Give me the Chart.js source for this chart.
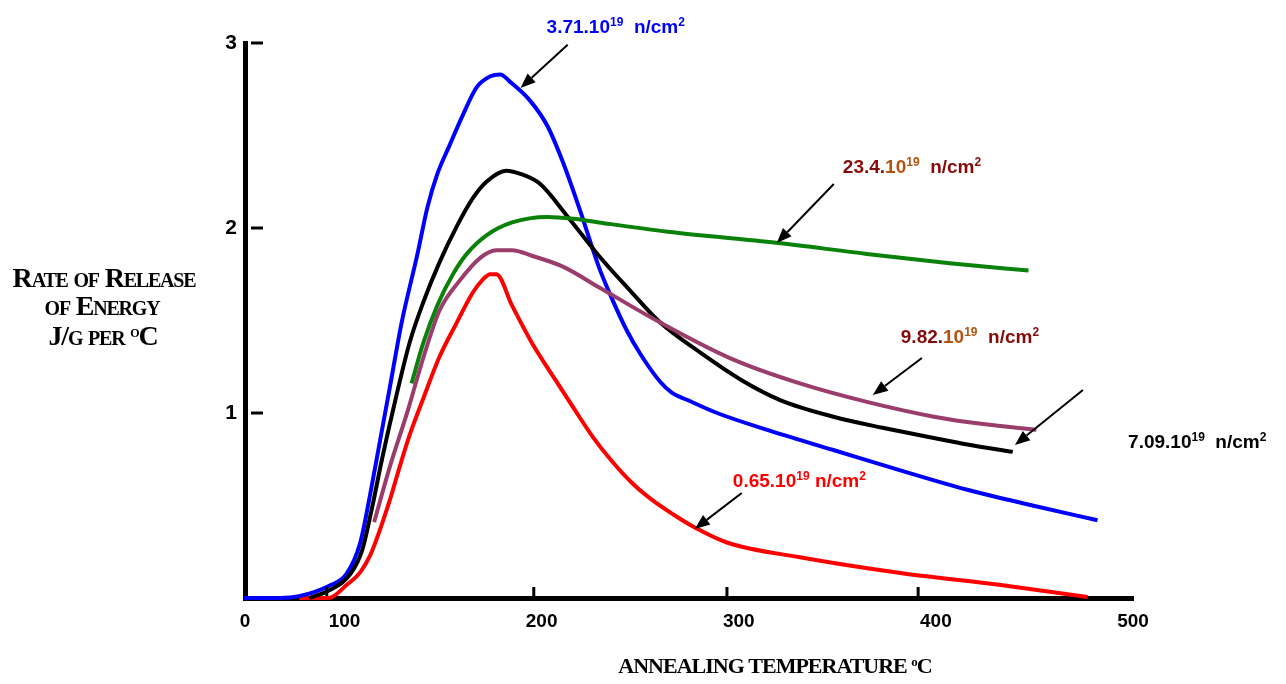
<!DOCTYPE html>
<html>
<head>
<meta charset="utf-8">
<script src="https://cdn.jsdelivr.net/npm/chart.js@4.4.1/dist/chart.umd.min.js"></script>
<style>
  html, body { margin: 0; padding: 0; background: #fff; }
  #wrap { width: 1286px; height: 684px; }
</style>
</head>
<body>
<div id="wrap"><canvas id="chart"></canvas></div>
<script>
// axis ticks
const X_TICKS = [49.5, 100, 200, 300, 400, 500];
const X_TICK_LABELS = ["0", "100", "200", "300", "400", "500"];
const X_TICK_MARKS = [91, 196, 294, 391];
const Y_TICKS = [1, 2, 3];

// annealing temperature (deg C) / rate of release (J/g per deg C)
const blueT = [49, 67, 77, 92, 101, 108, 113, 118, 123, 129, 137, 142, 147, 153, 160, 167, 174, 179, 184, 194, 203, 211, 219, 229, 236, 243, 250, 260, 266, 274, 289, 314, 348, 382, 416, 449, 482];
const blueV = [0, 0, 0.01, 0.065, 0.13, 0.30, 0.56, 0.85, 1.14, 1.49, 1.86, 2.11, 2.29, 2.44, 2.61, 2.76, 2.82, 2.83, 2.79, 2.69, 2.55, 2.35, 2.11, 1.79, 1.61, 1.45, 1.32, 1.17, 1.11, 1.07, 1.00, 0.91, 0.80, 0.69, 0.585, 0.50, 0.42];

const blackT = [82, 92, 103, 109, 114, 119, 126, 133, 140, 148, 157, 165, 172, 182, 190, 199, 214, 229, 245, 260, 280, 301, 321, 348, 373, 399, 416, 439];
const blackV = [0, 0.04, 0.13, 0.26, 0.49, 0.75, 1.08, 1.38, 1.60, 1.81, 2.01, 2.16, 2.25, 2.31, 2.29, 2.24, 2.05, 1.85, 1.66, 1.49, 1.33, 1.18, 1.07, 0.98, 0.92, 0.865, 0.83, 0.79];

const greenT = [134, 140, 147, 155, 162, 172, 185, 203, 216, 229, 264, 319, 365, 407, 447];
const greenV = [1.16, 1.38, 1.58, 1.75, 1.86, 1.96, 2.03, 2.06, 2.05, 2.03, 1.98, 1.92, 1.86, 1.81, 1.77];

const purpleT = [115, 123, 132, 140, 148, 158, 169, 177, 185, 195, 211, 229, 260, 297, 331, 365, 399, 424, 451];
const purpleV = [0.41, 0.71, 1.01, 1.30, 1.55, 1.71, 1.84, 1.88, 1.88, 1.85, 1.79, 1.68, 1.49, 1.29, 1.16, 1.06, 0.98, 0.94, 0.91];

const redT = [77, 92, 101, 108, 113, 118, 123, 128, 133, 140, 148, 157, 165, 170, 174, 177, 185, 195, 206, 216, 226, 236, 246, 256, 267, 277, 294, 331, 382, 433, 477];
const redV = [0, 0, 0.07, 0.14, 0.23, 0.37, 0.53, 0.71, 0.88, 1.08, 1.30, 1.49, 1.65, 1.72, 1.75, 1.75, 1.58, 1.38, 1.195, 1.03, 0.87, 0.735, 0.62, 0.53, 0.45, 0.385, 0.30, 0.22, 0.135, 0.07, 0.005];

const BLUE = "#0000ff";
const BLACK = "#000000";
const GREEN = "#0a820a";
const PURPLE = "#9a3d6c";
const RED = "#ff0000";
const DARKRED = "#850a0a";
const BROWN = "#b5520e";

// labels: text start, arrow tail, arrow tip (data units)
const notes = [
  { parts: [["3.71.10", BLUE], ["19", BLUE, true], ["  n/cm", BLUE], ["2", BLUE, true]],
    at: [202.5, 3.054], from: [213.2, 2.99], to: [189.3, 2.757] },
  { parts: [["23.4.", DARKRED], ["10", BROWN], ["19", BROWN, true], ["  n/cm", DARKRED], ["2", DARKRED, true]],
    at: [352.8, 2.297], from: [348.2, 2.238], to: [319.3, 1.919] },
  { parts: [["9.82.", DARKRED], ["10", BROWN], ["19", BROWN, true], ["  n/cm", DARKRED], ["2", DARKRED, true]],
    at: [382.2, 1.378], from: [392.9, 1.297], to: [368.0, 1.097] },
  { parts: [["7.09.10", BLACK], ["19", BLACK, true], ["  n/cm", BLACK], ["2", BLACK, true]],
    at: [497.5, 0.81], from: [474.6, 1.124], to: [440.1, 0.827] },
  { parts: [["0.65.10", RED], ["19", RED, true], [" n/cm", RED], ["2", RED, true]],
    at: [297.0, 0.60], from: [301.5, 0.568], to: [277.7, 0.373] },
];

const pts = (xs, ys) => xs.map((x, i) => ({ x, y: ys[i] }));

function series(data, color) {
  return {
    data,
    borderColor: color,
    borderWidth: 4,
    pointRadius: 0,
    fill: false,
    cubicInterpolationMode: "monotone",
    clip: false,
  };
}

const SANS = "'Liberation Sans', Arial, sans-serif";
const SERIF = "'Liberation Serif', 'Times New Roman', serif";

function drawRich(ctx, x, y, parts, size) {
  let cx = x;
  parts.forEach(([t, color, sup]) => {
    const sz = sup ? 12 : size;
    ctx.font = `bold ${sz}px ${SANS}`;
    ctx.fillStyle = color;
    ctx.fillText(t, cx, sup ? y - 7 : y);
    cx += ctx.measureText(t).width;
  });
}

function drawArrow(ctx, x1, y1, x2, y2) {
  const a = Math.atan2(y2 - y1, x2 - x1);
  const L = 15, W = 6;
  ctx.strokeStyle = "#000";
  ctx.fillStyle = "#000";
  ctx.lineWidth = 2;
  ctx.beginPath();
  ctx.moveTo(x1, y1);
  ctx.lineTo(x2 - L * Math.cos(a), y2 - L * Math.sin(a));
  ctx.stroke();
  ctx.beginPath();
  ctx.moveTo(x2, y2);
  ctx.lineTo(x2 - L * Math.cos(a) + W * Math.sin(a), y2 - L * Math.sin(a) - W * Math.cos(a));
  ctx.lineTo(x2 - L * Math.cos(a) - W * Math.sin(a), y2 - L * Math.sin(a) + W * Math.cos(a));
  ctx.closePath();
  ctx.fill();
}

// serif title, centred at cx; segments [text, raised?]
function drawTitle(ctx, segs, cx, baseline, size, variant, spacing) {
  ctx.save();
  ctx.fillStyle = "#000";
  ctx.letterSpacing = spacing + "px";
  const fontFor = (sup) => `${variant} bold ${sup ? Math.round(size * 0.6) : size}px ${SERIF}`;
  let total = 0;
  const widths = segs.map(([t, sup]) => {
    ctx.font = fontFor(sup);
    const w = ctx.measureText(t).width;
    total += w;
    return w;
  });
  let x = cx - total / 2;
  segs.forEach(([t, sup], i) => {
    ctx.font = fontFor(sup);
    ctx.fillText(t, x, sup ? baseline - size * 0.3 : baseline);
    x += widths[i];
  });
  ctx.restore();
}

const decor = {
  id: "decor",
  afterDraw(chart) {
    const { ctx, scales: { x, y } } = chart;
    ctx.save();
    ctx.textAlign = "left";
    ctx.textBaseline = "alphabetic";

    // tick marks inside the axes
    ctx.strokeStyle = "#000";
    ctx.lineWidth = 3;
    const x0 = x.getPixelForValue(x.min);
    const y0 = y.getPixelForValue(0);
    Y_TICKS.forEach((v) => {
      const py = y.getPixelForValue(v);
      ctx.beginPath();
      ctx.moveTo(x0 + 6, py);
      ctx.lineTo(x0 + 18, py);
      ctx.stroke();
    });
    X_TICK_MARKS.forEach((v) => {
      const px = x.getPixelForValue(v);
      ctx.beginPath();
      ctx.moveTo(px, y0 - 2);
      ctx.lineTo(px, y0 - 11);
      ctx.stroke();
    });

    notes.forEach((n) => {
      drawRich(ctx, x.getPixelForValue(n.at[0]), y.getPixelForValue(n.at[1]), n.parts, 19);
      drawArrow(ctx,
        x.getPixelForValue(n.from[0]), y.getPixelForValue(n.from[1]),
        x.getPixelForValue(n.to[0]), y.getPixelForValue(n.to[1]));
    });

    drawTitle(ctx, [["Rate of Release", false]], 104, 287, 28, "small-caps", -1.2);
    drawTitle(ctx, [["of Energy", false]], 102, 315, 28, "small-caps", -1.2);
    drawTitle(ctx, [["J/g per ", false], ["o", true], ["C", false]], 103, 345, 28, "small-caps", -1.2);
    drawTitle(ctx, [["ANNEALING TEMPERATURE ", false], ["o", true], ["C", false]], 775, 673, 22, "normal", -1);
    ctx.restore();
  },
};

new Chart(document.getElementById("chart"), {
  type: "line",
  data: {
    datasets: [
      series(pts(greenT, greenV), GREEN),
      series(pts(purpleT, purpleV), PURPLE),
      series(pts(blackT, blackV), BLACK),
      series(pts(blueT, blueV), BLUE),
      series(pts(redT, redV), RED),
    ],
  },
  options: {
    responsive: true,
    maintainAspectRatio: false,
    animation: false,
    devicePixelRatio: 1,
    layout: { padding: { left: 0, right: 153, top: 43, bottom: 0 } },
    plugins: { legend: { display: false }, tooltip: { enabled: false } },
    scales: {
      x: {
        type: "linear",
        min: 49.5,
        max: 500,
        grid: { display: false, drawTicks: false },
        border: { display: true, width: 5, color: "#000" },
        afterBuildTicks: (s) => { s.ticks = X_TICKS.map((v) => ({ value: v })); },
        afterFit: (s) => { s.height = 86; },
        ticks: {
          autoSkip: false,
          maxRotation: 0,
          padding: 12,
          color: "#000",
          font: { family: SANS, size: 19, weight: "bold" },
          callback: (v, i) => X_TICK_LABELS[i],
        },
      },
      y: {
        min: 0,
        max: 3,
        grid: { display: false, drawTicks: false },
        border: { display: true, width: 5, color: "#000" },
        afterBuildTicks: (s) => { s.ticks = Y_TICKS.map((v) => ({ value: v })); },
        afterFit: (s) => { s.width = 245; },
        ticks: {
          padding: 8,
          color: "#000",
          font: { family: SANS, size: 21, weight: "bold" },
        },
      },
    },
  },
  plugins: [decor],
});
</script>
</body>
</html>
